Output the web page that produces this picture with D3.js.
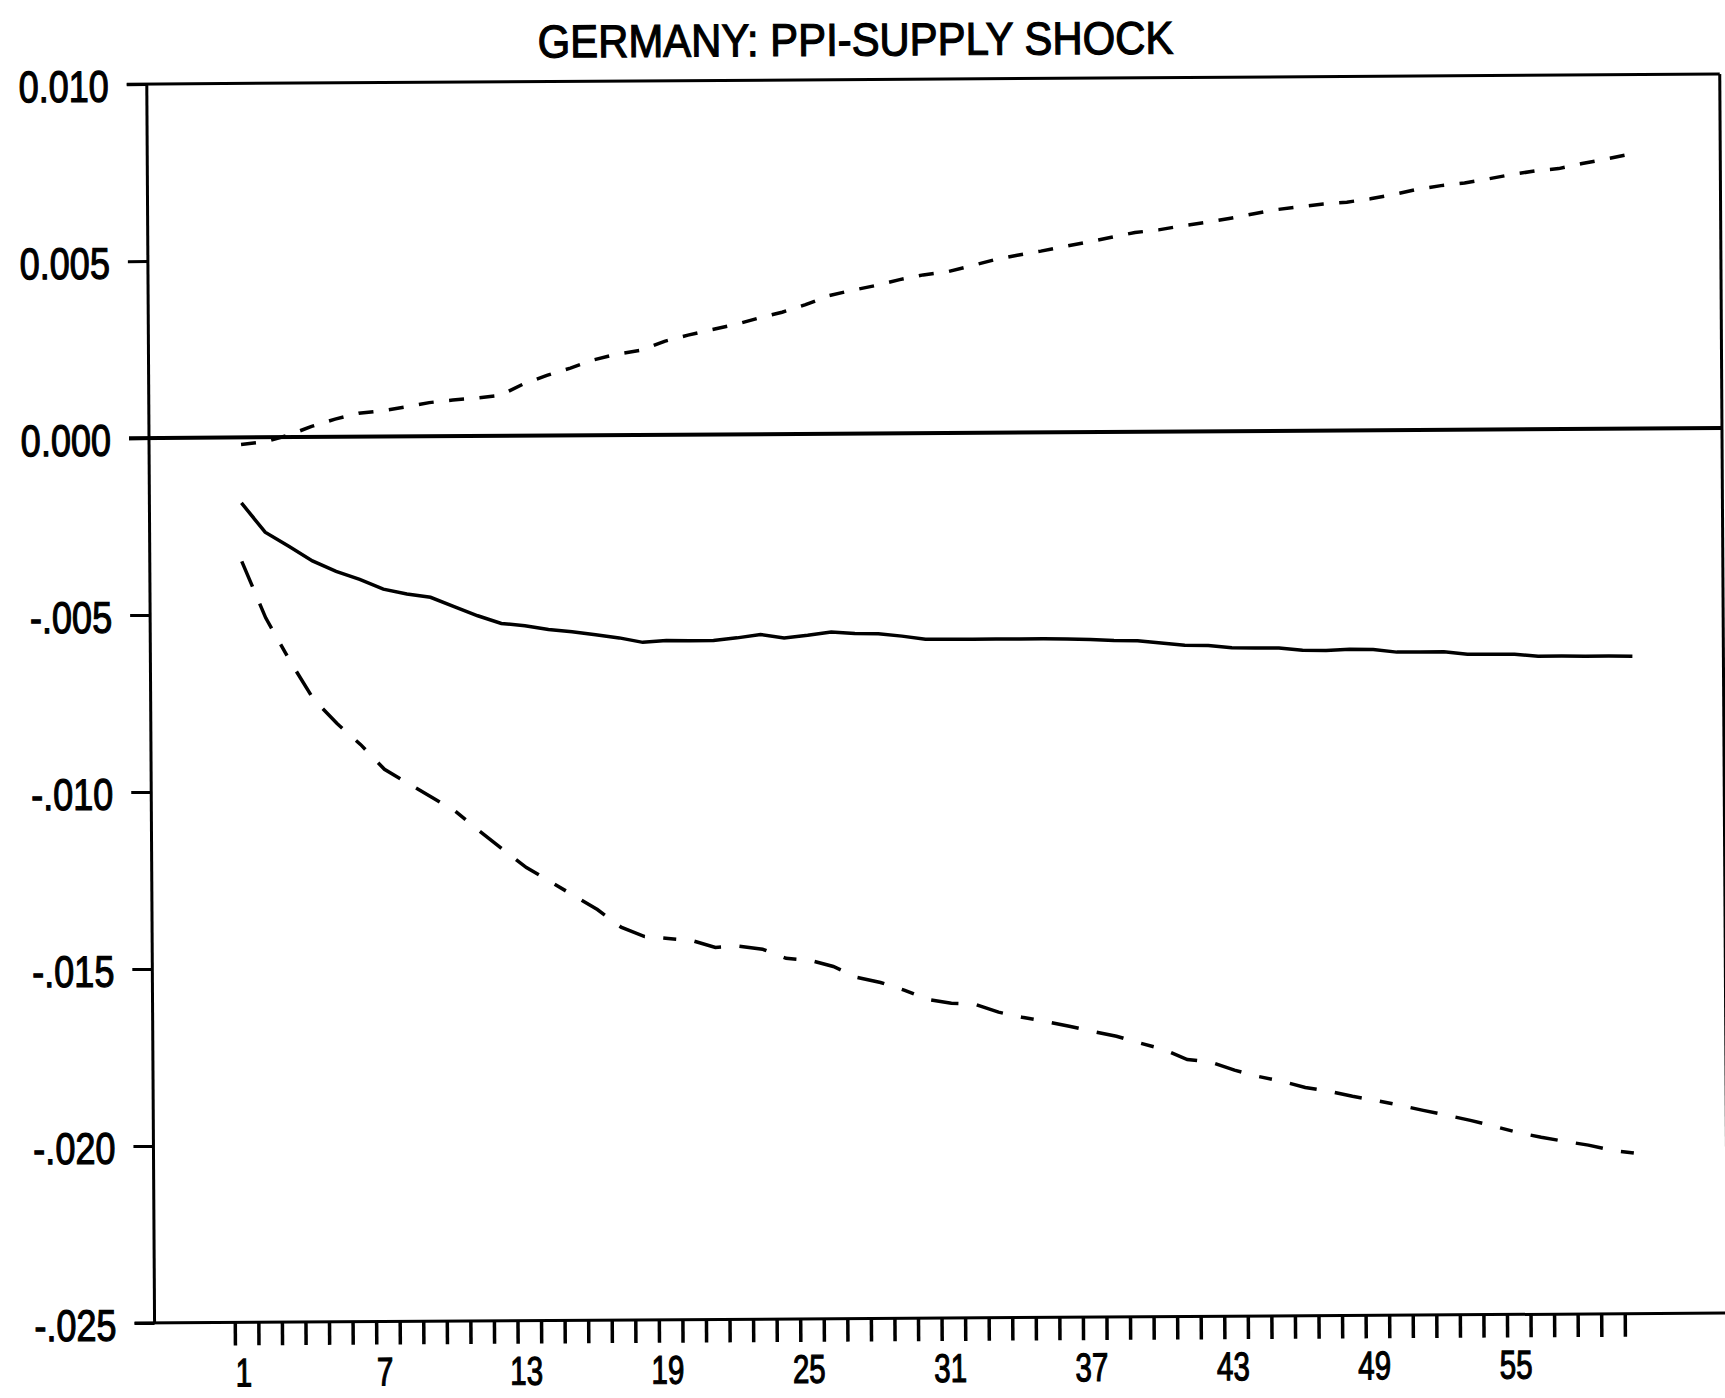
<!DOCTYPE html>
<html>
<head>
<meta charset="utf-8">
<script src="https://cdn.jsdelivr.net/npm/d3@7"></script>
<style>
  body { margin: 0; background: #fff; }
  svg { display: block; }
  .lbl { font-family: "Liberation Sans", Arial, sans-serif; fill: #000; stroke: #000; stroke-width: 1.2px; }
  .axes line { stroke: #000; }
</style>
</head>
<body>
<div id="canvas"></div>
<script>
// DATA
const yTicks = [0.010, 0.005, 0.000, -0.005, -0.010, -0.015, -0.020, -0.025];
const yTickLabels = ["0.010", "0.005", "0.000", "-.005", "-.010", "-.015", "-.020", "-.025"];
const xLabels = [1, 7, 13, 19, 25, 31, 37, 43, 49, 55];

// impulse response, periods 1..60
const response = [
  -0.00185, -0.00268, -0.00308, -0.00350, -0.00380, -0.00403, -0.00431, -0.00445, -0.00455, -0.00482,
  -0.00508, -0.00530, -0.00537, -0.00548, -0.00555, -0.00564, -0.00573, -0.00586, -0.00581, -0.00582,
  -0.00582, -0.00575, -0.00566, -0.00576, -0.00569, -0.00560, -0.00565, -0.00566, -0.00573, -0.00582,
  -0.00583, -0.00583, -0.00583, -0.00583, -0.00583, -0.00584, -0.00586, -0.00589, -0.00590, -0.00597,
  -0.00604, -0.00605, -0.00612, -0.00613, -0.00613, -0.00620, -0.00621, -0.00618, -0.00619, -0.00627,
  -0.00627, -0.00627, -0.00634, -0.00635, -0.00635, -0.00641, -0.00641, -0.00642, -0.00642, -0.00643
];

const lowerBand = [
  -0.00350, -0.00510, -0.00630, -0.00740, -0.00810, -0.00870, -0.00940, -0.00980, -0.01020, -0.01060,
  -0.01115, -0.01168, -0.01220, -0.01260, -0.01300, -0.01340, -0.01390, -0.01417, -0.01423, -0.01429,
  -0.01449, -0.01446, -0.01455, -0.01481, -0.01487, -0.01505, -0.01536, -0.01551, -0.01573, -0.01600,
  -0.01611, -0.01614, -0.01637, -0.01652, -0.01664, -0.01678, -0.01693, -0.01707, -0.01727, -0.01745,
  -0.01774, -0.01782, -0.01805, -0.01823, -0.01837, -0.01855, -0.01866, -0.01881, -0.01893, -0.01907,
  -0.01922, -0.01936, -0.01951, -0.01968, -0.01986, -0.02000, -0.02012, -0.02023, -0.02038, -0.02047
];

const upperBand = [
  -0.00020, -0.00013, 0.00005, 0.00030, 0.00050, 0.00066, 0.00073, 0.00083, 0.00095, 0.00102,
  0.00107, 0.00114, 0.00146, 0.00170, 0.00190, 0.00213, 0.00229, 0.00239, 0.00264, 0.00281,
  0.00296, 0.00310, 0.00328, 0.00344, 0.00365, 0.00390, 0.00405, 0.00418, 0.00434, 0.00447,
  0.00455, 0.00471, 0.00488, 0.00501, 0.00512, 0.00525, 0.00537, 0.00550, 0.00563, 0.00570,
  0.00581, 0.00590, 0.00601, 0.00613, 0.00625, 0.00633, 0.00640, 0.00645, 0.00654, 0.00666,
  0.00680, 0.00690, 0.00697, 0.00708, 0.00720, 0.00730, 0.00736, 0.00750, 0.00762, 0.00775
];

function drawGraph() {

  // DIMENSIONS
  const width = 1725;
  const height = 1398;
  const margin = { top: 84, bottom: 75, left: 149, right: 3 };

  const plot_height = height - margin.top - margin.bottom;
  const plot_width = width - margin.left - margin.right;

  // CANVAS AND PLOT (the scan is tilted a little)
  const canvas = d3.select('#canvas')
    .append('svg')
    .attr('height', height)
    .attr('width', width);

  const plot = canvas.append('g')
    .attr("transform", `rotate(-0.36, ${margin.left}, 438) translate(${margin.left},${margin.top})`);

  // SCALES
  const x = d3.scaleLinear([1, response.length], [92, 1482]);
  const y = d3.scaleLinear([-0.025, 0.010], [plot_height, 0]);

  // FRAME
  const frame = [
    [-20, y(0.010), plot_width, y(0.010)],
    [0, 0, 0, plot_height],
    [-20, y(-0.025), plot_width + 10, y(-0.025)],
    [plot_width, 0, plot_width, plot_height]
  ];
  plot.selectAll('line.frame').data(frame).enter()
    .append('line')
    .attr('class', 'frame')
    .attr('x1', d => d[0]).attr('y1', d => d[1])
    .attr('x2', d => d[2]).attr('y2', d => d[3])
    .attr('stroke', '#000')
    .attr('stroke-width', 3);

  // zero line
  plot.append('line')
    .attr('x1', -20).attr('x2', plot_width)
    .attr('y1', y(0)).attr('y2', y(0))
    .attr('stroke', '#000')
    .attr('stroke-width', 4);

  // AXES
  const yAx = d3.axisLeft(y).tickValues(yTicks).tickSize(20).tickFormat("");
  const yaxis = plot.append('g')
    .attr('class', 'axes')
    .call(yAx);
  yaxis.select('.domain').remove();
  yaxis.selectAll('line').attr('stroke-width', 3);

  const tickPos = response.map((d, i) => i + 0.5);
  const xAx = d3.axisBottom(x).tickValues(tickPos).tickSize(23).tickFormat("");
  const xaxis = plot.append('g')
    .attr('class', 'axes')
    .attr('transform', `translate(0, ${plot_height})`)
    .call(xAx);
  xaxis.select('.domain').remove();
  xaxis.selectAll('line').attr('stroke-width', 3.5);

  // LABELS (condensed plotter lettering)
  plot.selectAll('text.ylab').data(yTicks).enter()
    .append('text')
    .attr('class', 'lbl ylab')
    .attr('transform', d => `translate(-38, ${y(d) + 17.5}) scale(0.82,1)`)
    .style('font-size', '44px')
    .style('text-anchor', 'end')
    .text((d, i) => yTickLabels[i]);

  plot.selectAll('text.xlab').data(xLabels).enter()
    .append('text')
    .attr('class', 'lbl xlab')
    .attr('transform', d => `translate(${x(d) - 3}, ${plot_height + 64}) scale(0.74,1)`)
    .style('font-size', '40px')
    .style('text-anchor', 'middle')
    .text(d => d);

  plot.append('text')
    .attr('class', 'lbl')
    .attr('transform', `translate(${858 - margin.left}, -24) scale(0.91,1)`)
    .style('font-size', '46px')
    .style('text-anchor', 'middle')
    .text('GERMANY: PPI-SUPPLY SHOCK');

  // LINES
  const line = d3.line()
    .x((d, i) => x(i + 1))
    .y(d => y(d));

  const series = [
    { values: upperBand, dash: '15,15.5' },
    { values: lowerBand, dash: '27.5,18.4,27.5,18.4,13,18.4' },
    { values: response, dash: null }
  ];

  plot.selectAll('path.irf').data(series).enter()
    .append('path')
    .attr('class', 'irf')
    .attr('d', d => line(d.values))
    .attr('fill', 'none')
    .attr('stroke', '#000')
    .attr('stroke-width', 3.5)
    .attr('stroke-dasharray', d => d.dash);
}

drawGraph();
</script>
</body>
</html>
